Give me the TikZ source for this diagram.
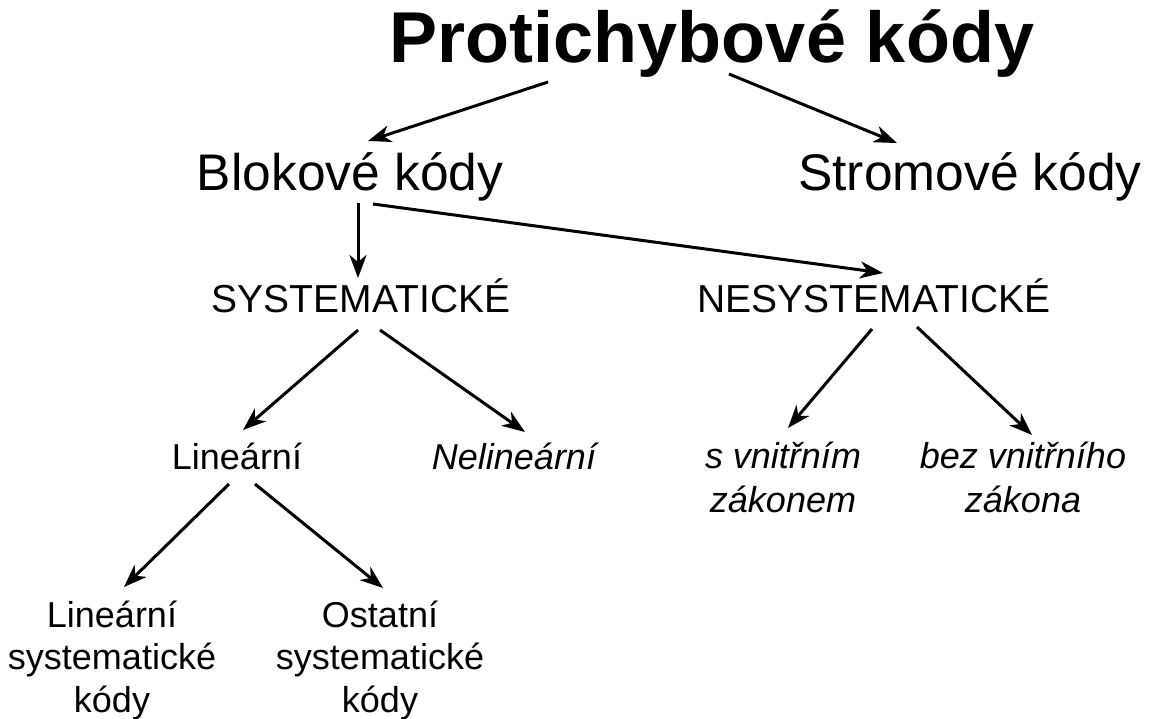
\documentclass[tikz,border=0pt]{standalone}
\usepackage{fontspec}
\setmainfont{Liberation Sans}
\usetikzlibrary{arrows.meta,calc}

\begin{document}
\begin{tikzpicture}[
  x=1pt,y=-1pt,
  every node/.style={inner sep=0pt,anchor=base,align=center},
  head/.style={font=\bfseries\fontsize{72}{86}\selectfont},
  big/.style={font=\fontsize{51.5}{60}\selectfont},
  caps/.style={font=\fontsize{39}{46}\selectfont},
  leaf/.style={font=\fontsize{36}{42.5}\selectfont},
  leafit/.style={font=\itshape\fontsize{36}{44}\selectfont},
  arr/.style={-{Stealth[length=23pt,width=17pt,inset=7pt]},line width=3pt}
]
\useasboundingbox (0,0) rectangle (1150,718);

\node[head] (title) at (712,62) {Protichybové kódy};
\node[big] (blok) at (350,190) {Blokové kódy};
\node[big] (strom) at (970,190) {Stromové kódy};

\node[caps] (syst) at (361,312) {SYSTEMATICKÉ};
\node[caps] (nesyst) at (874,312) {NESYSTEMATICKÉ};

\node[leaf] (lin) at (237,469) {Lineární};
\node[leafit] (nelin) at (514,469) {Nelineární};
% multi-line nodes sit on their last baseline
\node[leafit] (svnitr) at (783,512) {s vnitřním\\zákonem};
\node[leafit] (bezvnitr) at (1023,512) {bez vnitřního\\zákona};

\node[leaf] (linsys) at (112,712) {Lineární\\systematické\\kódy};
\node[leaf] (ostsys) at (380,712) {Ostatní\\systematické\\kódy};

% top level
\draw[arr] ([shift={(-164,20)}]title.base) -- ([shift={(18,-49)}]blok.base);
\draw[arr] ([shift={(17,12)}]title.base) -- ([shift={(-73,-47)}]strom.base);

% block codes
\draw[arr] ([shift={(8,13)}]blok.base) -- ([shift={(-3,-34)}]syst.base);
\draw[arr] ([shift={(23,14)}]blok.base) -- ([shift={(9,-39)}]nesyst.base);

\draw[arr] ([shift={(-3,18)}]syst.base) -- ([shift={(6,-39)}]lin.base);
\draw[arr] ([shift={(19,18)}]syst.base) -- ([shift={(11,-37)}]nelin.base);
\draw[arr] ([shift={(-2,17)}]nesyst.base) -- ([shift={(5,-84)}]svnitr.base);
\draw[arr] ([shift={(43,15)}]nesyst.base) -- ([shift={(9,-77)}]bezvnitr.base);

\draw[arr] ([shift={(-8,15)}]lin.base) -- ([shift={(12,-125)}]linsys.base);
\draw[arr] ([shift={(18,15)}]lin.base) -- ([shift={(3,-124)}]ostsys.base);
\end{tikzpicture}
\end{document}
